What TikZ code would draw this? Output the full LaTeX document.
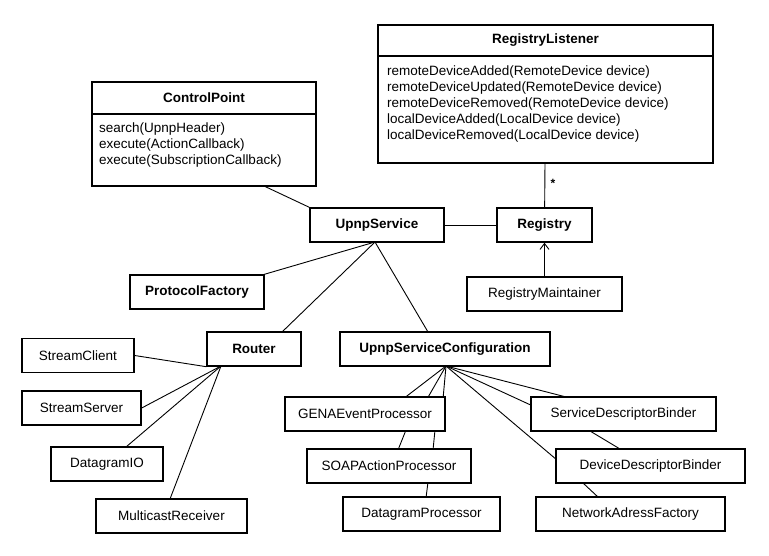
\documentclass[tikz,border=0pt]{standalone}
\usepackage{fontspec}
\setmainfont{Liberation Sans}
\usetikzlibrary{arrows.meta}
\pgfdeclarelayer{bg}
\pgfsetlayers{bg,main}
\begin{document}
\begin{tikzpicture}[x=1pt,y=-1pt,
  ln/.style={line width=0.9pt},
  bt/.style={font=\fontsize{13.5}{15}\selectfont\bfseries},
  op/.style={font=\fontsize{13.5}{15.8}\selectfont,align=left,anchor=north west,inner sep=0pt},
  b/.style={draw,fill=white,line width=1.4pt,minimum height=34pt,font=\fontsize{13.5}{15}\selectfont}]
\useasboundingbox (0,0) rectangle (769,555);
\draw[line width=1.4pt] (378,25) rectangle (713,163);
\draw[line width=1.4pt] (378,56) -- (713,56);
\node[bt] at (545.5,40.5) {RegistryListener};
\node[op] at (387,66) {remoteDeviceAdded(RemoteDevice device)\\remoteDeviceUpdated(RemoteDevice device)\\remoteDeviceRemoved(RemoteDevice device)\\localDeviceAdded(LocalDevice device)\\localDeviceRemoved(LocalDevice device)};
\coordinate (rl) at (545,163);
\draw[line width=1.4pt] (92,82) rectangle (316,186);
\draw[line width=1.4pt] (92,114) -- (316,114);
\node[bt] at (204,98) {ControlPoint};
\node[op] at (99,123) {search(UpnpHeader)\\execute(ActionCallback)\\execute(SubscriptionCallback)};
\coordinate (cp) at (264,186);
\node[b,bt,minimum width=134pt] (us) at (377,225) {UpnpService};
\node[b,bt,minimum width=95pt] (reg) at (544.5,225) {Registry};
\node[b,bt,minimum width=134pt] (pf) at (197,292) {ProtocolFactory};
\node[b,minimum width=155pt] (rm) at (544.5,294) {RegistryMaintainer};
\node[b,bt,minimum width=94pt] (rt) at (254,349) {Router};
\node[b,bt,minimum width=210pt] (cfg) at (445,349) {UpnpServiceConfiguration};
\node[b,minimum width=112pt] (sc) at (78,355.5) {StreamClient};
\node[b,minimum width=119pt] (ss) at (81.5,408) {StreamServer};
\node[b,minimum width=112pt] (dio) at (107,464) {DatagramIO};
\node[b,minimum width=151pt] (mr) at (171.5,516) {MulticastReceiver};
\node[b,minimum width=160pt] (gena) at (365,414) {GENAEventProcessor};
\node[b,minimum width=185pt] (sdb) at (623.5,414) {ServiceDescriptorBinder};
\node[b,minimum width=164pt] (soap) at (389,466) {SOAPActionProcessor};
\node[b,minimum width=189pt] (ddb) at (650.5,466) {DeviceDescriptorBinder};
\node[b,minimum width=157pt] (dp) at (421.5,514) {DatagramProcessor};
\node[b,minimum width=189pt] (naf) at (630.5,514) {NetworkAdressFactory};
\begin{pgfonlayer}{bg}
\draw[ln] (cp) -- (us.north west);
\draw[ln] (us) -- (reg);
\draw[ln] (reg) -- (rl) node[pos=0.55,right=2pt,font=\large\bfseries] {*};
\coordinate (usb) at (375,242);
\draw[ln] (usb) -- (262,275);
\draw[ln] (usb) -- (282,332);
\draw[ln] (usb) -- (428,332);
\draw[ln] (sc.east) -- (rt.south west);
\coordinate (rtb) at (221,366);
\draw[ln] (rtb) -- (ss.east);
\draw[ln] (rtb) -- (126,447);
\draw[ln] (rtb) -- (170,499);
\coordinate (cb) at (446,366);
\draw[ln] (cb) -- (403,399);
\draw[ln] (cb) -- (427,399);
\draw[ln] (cb) -- (443,399);
\draw[ln] (406,430) -- (398,450);
\draw[ln] (435,430) -- (433,450);
\draw[ln] (428,482) -- (426,498);
\draw[ln] (cb) -- (570,398);
\draw[ln] (cb) -- (535,407);
\draw[ln] (cb) -- (557,460);
\draw[ln] (590,431) -- (620,449);
\draw[ln] (583,483) -- (598,497);
\end{pgfonlayer}
\draw[ln,-{Straight Barb[length=6pt,width=9pt]}] (rm) -- (reg);
\end{tikzpicture}
\end{document}
